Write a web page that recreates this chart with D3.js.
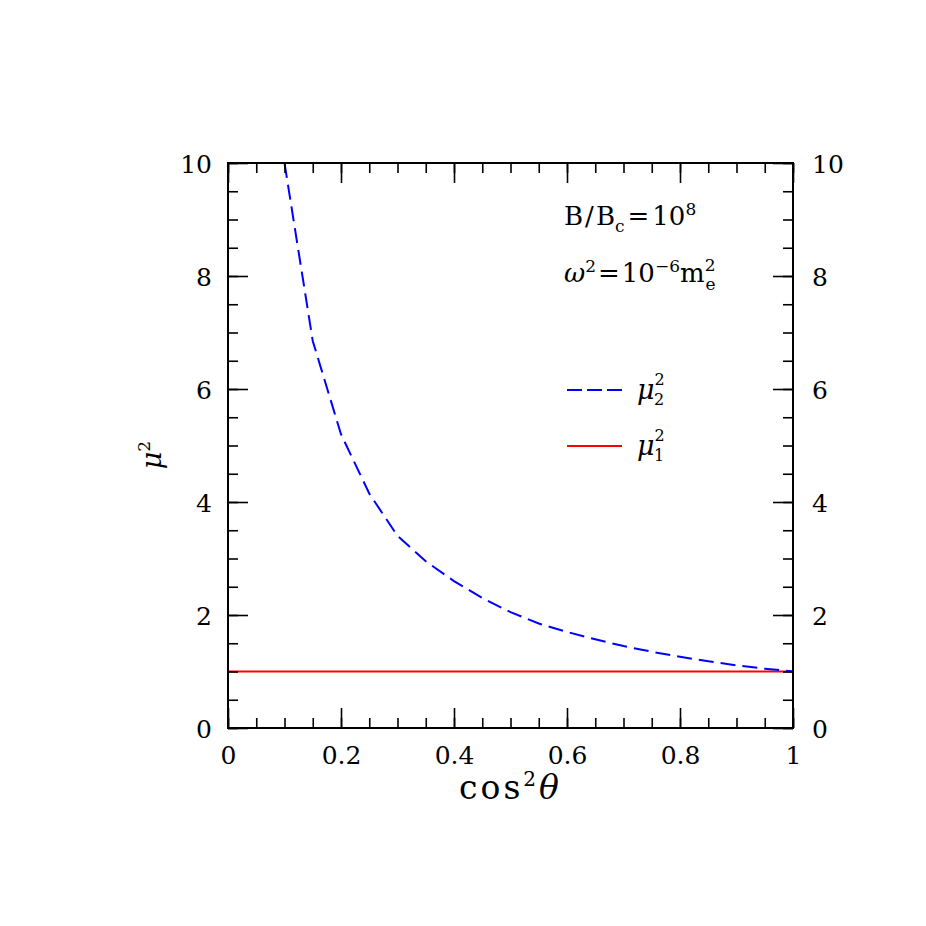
<!DOCTYPE html>
<html>
<head>
<meta charset="utf-8">
<script src="https://cdn.jsdelivr.net/npm/d3@7"></script>
<style>
  body { margin: 0; background: #fff; }
</style>
</head>
<body>
<div id="canvas"></div>
<script>
// values
let cosTheta2 = [0.1, 0.15, 0.2, 0.25, 0.3, 0.35, 0.4, 0.45, 0.5, 0.55, 0.6, 0.65, 0.7, 0.75, 0.8, 0.85, 0.9, 0.95, 1.0];
let mu2sq = [10, 6.85, 5.2, 4.15, 3.4, 2.95, 2.6, 2.3, 2.05, 1.85, 1.7, 1.57, 1.45, 1.35, 1.26, 1.18, 1.11, 1.05, 1.0];
let mu1x = [0, 1];
let mu1sq = [1, 1];
let xTicks = [0, 0.2, 0.4, 0.6, 0.8, 1];
let yTicks = [0, 2, 4, 6, 8, 10];

let width = 926;
let height = 926;
let margin = { top: 163, bottom: 198, left: 228, right: 133 };
let serif = '"DejaVu Serif", serif';

let escalaX = d3.scaleLinear().domain([0, 1]).range([margin.left, width - margin.right]);
let escalaY = d3.scaleLinear().domain([0, 10]).range([height - margin.bottom, margin.top]);

let svg = d3.select("#canvas").append("svg")
  .attr("width", width)
  .attr("height", height)
  .style("font-family", serif);

// curves
let linea = d3.line().x(d => escalaX(d[0])).y(d => escalaY(d[1]));

svg.append("path")
  .datum(mu1x.map((x, i) => [x, mu1sq[i]]))
  .attr("d", linea)
  .attr("fill", "none")
  .attr("stroke", "#ff0000")
  .attr("stroke-width", 2);

svg.append("path")
  .datum(cosTheta2.map((x, i) => [x, mu2sq[i]]))
  .attr("d", linea)
  .attr("fill", "none")
  .attr("stroke", "#0000ff")
  .attr("stroke-width", 2)
  .attr("stroke-dasharray", "15,7");

// axes: inside ticks on all four sides
let x0 = escalaX(0), x1 = escalaX(1), y0 = escalaY(0), y1 = escalaY(10);

function ticks(axisFn, scale, vals, size, pos, showLabels) {
  let g = svg.append("g").attr("transform", pos)
    .call(axisFn(scale).tickValues(vals).tickSize(size).tickFormat(showLabels ? d => String(d) : ""));
  g.attr("font-family", null).attr("font-size", null);
  g.selectAll(".domain").remove();
  g.selectAll("line").attr("stroke", "#000").attr("stroke-width", 1.6);
  g.selectAll("text").style("font-size", "25px").style("font-family", serif).attr("fill", "#000");
  return g;
}

let minorX = d3.range(0, 21).map(i => i * 0.05);
let minorY = d3.range(0, 21).map(i => i * 0.5);

// bottom
ticks(d3.axisTop, escalaX, minorX, 10, "translate(0," + y0 + ")", false);
let gB = ticks(d3.axisTop, escalaX, xTicks, 20, "translate(0," + y0 + ")", true);
gB.selectAll("text").attr("y", 36).attr("dy", null);
// top
ticks(d3.axisBottom, escalaX, minorX, 10, "translate(0," + y1 + ")", false);
ticks(d3.axisBottom, escalaX, xTicks, 20, "translate(0," + y1 + ")", false);
// left
ticks(d3.axisRight, escalaY, minorY, 10, "translate(" + x0 + ",0)", false);
let gL = ticks(d3.axisRight, escalaY, yTicks, 20, "translate(" + x0 + ",0)", true);
gL.selectAll("text").attr("x", -16).attr("text-anchor", "end").attr("dy", "0.36em");
// right
ticks(d3.axisLeft, escalaY, minorY, 10, "translate(" + x1 + ",0)", false);
let gR = ticks(d3.axisLeft, escalaY, yTicks, 20, "translate(" + x1 + ",0)", true);
gR.selectAll("text").attr("x", 19).attr("text-anchor", "start").attr("dy", "0.36em");

// frame
svg.append("rect")
  .attr("x", x0).attr("y", y1)
  .attr("width", x1 - x0).attr("height", y0 - y1)
  .attr("fill", "none").attr("stroke", "#000").attr("stroke-width", 2);

// helper for text with explicit font
function texto(x, y, size) {
  return svg.append("text").attr("x", x).attr("y", y)
    .style("font-family", serif).style("font-size", size + "px").attr("fill", "#000");
}

// axis titles
let tx = texto((x0 + x1) / 2, 799, 33).attr("text-anchor", "middle").style("letter-spacing", "3px");
tx.append("tspan").text("cos");
tx.append("tspan").style("font-size", "20px").attr("dy", -13).text("2");
tx.append("tspan").attr("dy", 13).attr("font-style", "italic").text("θ");

let ty = texto(0, 0, 27)
  .attr("transform", "translate(161,455) rotate(-90)")
  .attr("text-anchor", "middle");
ty.append("tspan").attr("font-style", "italic").text("μ");
ty.append("tspan").style("font-size", "17px").attr("dy", -11).text("2");

// annotations
let a1 = texto(564, 225, 26);
a1.append("tspan").text("B");
a1.append("tspan").attr("dx", 2).text("/");
a1.append("tspan").attr("dx", 2).text("B");
a1.append("tspan").style("font-size", "17px").attr("dy", 7).text("c");
a1.append("tspan").attr("dx", 3).attr("dy", -7).text("=");
a1.append("tspan").attr("dx", 3).text("10");
a1.append("tspan").style("font-size", "17px").attr("dy", -10).text("8");

let a2 = texto(564, 282, 26);
a2.append("tspan").attr("font-style", "italic").text("ω");
a2.append("tspan").style("font-size", "17px").attr("dy", -10).text("2");
a2.append("tspan").attr("dx", 2).attr("dy", 10).text("=");
a2.append("tspan").attr("dx", 2).text("10");
a2.append("tspan").style("font-size", "17px").attr("dy", -10).text("−6");
a2.append("tspan").attr("dy", 10).text("m");
a2.append("tspan").style("font-size", "17px").attr("dy", -11).text("2");
let bb = a2.node().getBBox();
texto(bb.x + bb.width - 10, 290, 17).text("e");

// legend
let leyenda = [
  { label: "2", color: "#0000ff", dash: "15,5", y: 390 },
  { label: "1", color: "#ff0000", dash: null, y: 446 }
];
leyenda.forEach(d => {
  svg.append("line")
    .attr("x1", 567).attr("x2", 622).attr("y1", d.y).attr("y2", d.y)
    .attr("stroke", d.color).attr("stroke-width", 2)
    .attr("stroke-dasharray", d.dash);
  let t = texto(637, d.y + 9, 27);
  t.append("tspan").attr("font-style", "italic").text("μ");
  t.append("tspan").style("font-size", "16px").attr("dy", -14).text("2");
  texto(654, d.y + 15, 16).text(d.label);
});
</script>
</body>
</html>
